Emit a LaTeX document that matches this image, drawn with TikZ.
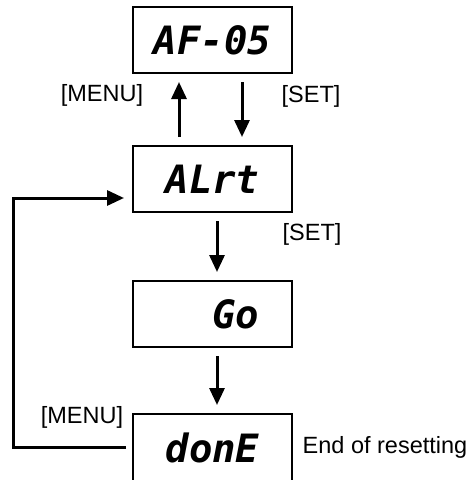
\documentclass[tikz,border=0pt]{standalone}
\usepackage{fontspec}
\setmainfont{Liberation Sans}
\newfontfamily\segfont{DejaVu Sans Mono}
\usetikzlibrary{arrows.meta}
\tikzset{
  disp/.style={draw, line width=2pt, minimum width=159pt, minimum height=66pt, inner sep=0pt,
    font=\segfont\bfseries\itshape\fontsize{39}{40}\selectfont},
  lbl/.style={font=\fontsize{23.5}{25}\selectfont, inner sep=0pt},
  arr/.style={line width=3pt, -{Triangle[length=17pt,width=15pt]}, shorten >=8pt, shorten <=8pt}
}
\begin{document}
\begin{tikzpicture}[x=1pt,y=-1pt]
\useasboundingbox (0,0) rectangle (470,480);
\node[disp] (b1) at (212.5,40) {AF-05};
\node[disp] (b2) at (212.5,179) {ALrt};
\node[disp] (b3) at (212.5,314) {\phantom{AL}Go};
\node[disp, minimum height=68pt] (b4) at (212.5,448) {donE};

\coordinate (upx) at (179,0);
\coordinate (dnx) at (242,0);
\draw[arr] (b2.north -| upx) -- (b1.south -| upx);
\draw[arr] (b1.south -| dnx) -- (b2.north -| dnx);
\draw[arr] (b2.south) ++(4.5,0) coordinate (s2) -- (b3.north -| s2);
\draw[arr] (b3.south) ++(4.5,0) coordinate (s3) -- (b4.north -| s3);

\coordinate (lc) at (13,198);
\coordinate (la) at (133,447);
\draw[arr, shorten <=7pt] (la) -| (lc) -- (lc -| b2.west);

\node[lbl] (m1) at (102,95) {[MENU]};
\node[lbl] (s1) at (311,96) {[SET]};
\node[lbl] (s2l) at (312,234) {[SET]};
\node[lbl] (m2) at (82,417) {[MENU]};
\node[lbl] (end) at (385,447) {End of resetting};
\end{tikzpicture}
\end{document}
